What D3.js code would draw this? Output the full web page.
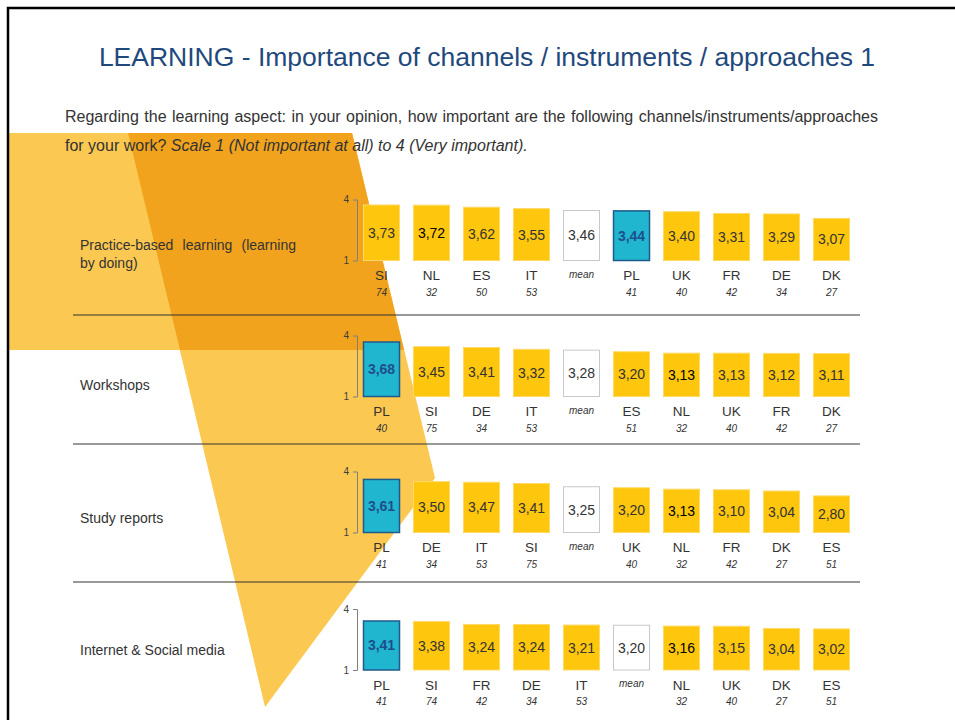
<!DOCTYPE html>
<html>
<head>
<meta charset="utf-8">
<script src="https://cdn.jsdelivr.net/npm/d3@7"></script>
<style>
    body { margin: 0; background: #fff; }
    svg { display: block; font-family: "Liberation Sans", Arial, sans-serif; }
</style>
</head>
<body>
<div id="chart"></div>
<script>
// Data
const title = 'LEARNING - Importance of channels / instruments / approaches 1';
const question = 'Regarding the learning aspect: in your opinion, how important are the following channels/instruments/approaches';
const questionEnd = 'for your work? ';
const scaleNote = 'Scale 1 (Not important at all) to 4 (Very important).';

const categories = [
    ['Practice-based learning (learning', 'by doing)'],
    ['Workshops'],
    ['Study reports'],
    ['Internet & Social media']
];

const countries = [
    ['SI', 'NL', 'ES', 'IT', 'mean', 'PL', 'UK', 'FR', 'DE', 'DK'],
    ['PL', 'SI', 'DE', 'IT', 'mean', 'ES', 'NL', 'UK', 'FR', 'DK'],
    ['PL', 'DE', 'IT', 'SI', 'mean', 'UK', 'NL', 'FR', 'DK', 'ES'],
    ['PL', 'SI', 'FR', 'DE', 'IT', 'mean', 'NL', 'UK', 'DK', 'ES']
];

const values = [
    [3.73, 3.72, 3.62, 3.55, 3.46, 3.44, 3.40, 3.31, 3.29, 3.07],
    [3.68, 3.45, 3.41, 3.32, 3.28, 3.20, 3.13, 3.13, 3.12, 3.11],
    [3.61, 3.50, 3.47, 3.41, 3.25, 3.20, 3.13, 3.10, 3.04, 2.80],
    [3.41, 3.38, 3.24, 3.24, 3.21, 3.20, 3.16, 3.15, 3.04, 3.02]
];

const respondents = [
    [74, 32, 50, 53, null, 41, 40, 42, 34, 27],
    [40, 75, 34, 53, null, 51, 32, 40, 42, 27],
    [41, 34, 53, 75, null, 40, 32, 42, 27, 51],
    [41, 74, 42, 34, 53, null, 32, 40, 27, 51]
];

const scaleTicks = [1, 4];
const highlight = 'PL';

const COLORS = {
    title: '#1f497d',
    text: '#333333',
    bar: '#fec60c',
    barStroke: '#ffd966',
    hl: '#21b6d0',
    hlStroke: '#1f5a8c',
    hlText: '#1f4e8c',
    meanStroke: '#c8c8c8',
    axis: '#7f7f7f',
    rule: '#333333',
    light: '#fbc852',
    dark: '#f1a31e'
};

const width = 955, height = 720;
const panelTop = [199.5, 335.5, 471.5, 609];   // y of the "4" tick
const panelH = 61;
const labelY = [[245, 263], [385], [518], [650]];
const rules = [315, 444, 582];

const svg = d3.select('#chart').append('svg')
    .attr('width', width)
    .attr('height', height);

// decorative background shapes
const poly = pts => 'M' + pts.map(p => p.join(',')).join('L') + 'Z';
svg.append('path').attr('d', poly([[8, 133], [352, 133], [404, 350], [8, 350]])).attr('fill', COLORS.light);
svg.append('path').attr('d', poly([[128, 133], [352, 133], [435, 478], [265, 707]])).attr('fill', COLORS.light);
svg.append('path').attr('d', poly([[128, 133], [352, 133], [404, 350], [180, 350]])).attr('fill', COLORS.dark);

// frame
svg.append('path')
    .attr('d', `M8,${height}V8H${width}`)
    .attr('fill', 'none')
    .attr('stroke', '#000')
    .attr('stroke-width', 2.5);

// title
svg.append('text')
    .attr('x', 487).attr('y', 66)
    .attr('text-anchor', 'middle')
    .attr('fill', COLORS.title)
    .style('font-size', '26.5px')
    .text(title);

// question, first line justified
const q1 = svg.append('text')
    .attr('x', 65).attr('y', 122)
    .attr('fill', COLORS.text)
    .style('font-size', '16px')
    .text(question);
const justify = (sel, w) => {
    const node = sel.node();
    const spaces = (node.textContent.match(/ /g) || []).length;
    const extra = (w - node.getComputedTextLength()) / spaces;
    sel.attr('word-spacing', extra);
};
justify(q1, 813);

const q2 = svg.append('text')
    .attr('x', 65).attr('y', 151)
    .attr('fill', COLORS.text)
    .style('font-size', '16px');
q2.append('tspan').text(questionEnd);
q2.append('tspan').style('font-style', 'italic').text(scaleNote);

// separators
svg.selectAll('.rule')
    .data(rules)
    .enter().append('line')
    .attr('class', 'rule')
    .attr('x1', 73).attr('x2', 860)
    .attr('y1', d => d).attr('y2', d => d)
    .attr('stroke', COLORS.rule)
    .attr('stroke-width', 1);

categories.forEach((lines, i) => {
    // category label
    lines.forEach((line, k) => {
        const t = svg.append('text')
            .attr('x', 80).attr('y', labelY[i][k] + 5)
            .attr('fill', COLORS.text)
            .style('font-size', '14px')
            .text(line);
        if (lines.length > 1 && k === 0) justify(t, 216);
    });

    const rows = countries[i].map((c, j) => ({ c, v: values[i][j], n: respondents[i][j] }));

    const y = d3.scaleLinear().domain([1, 4]).range([panelTop[i] + panelH, panelTop[i]]);
    const x = d3.scaleBand().domain(countries[i]).range([356.5, 856.5]).paddingInner(0.26).paddingOuter(0.13);

    const g = svg.append('g').attr('class', 'panel');

    // bracket axis
    const axis = g.append('g')
        .attr('transform', 'translate(357,0)')
        .call(d3.axisLeft(y).tickValues(scaleTicks).tickSizeInner(0).tickSizeOuter(4).tickPadding(8).tickFormat(d3.format('d')));
    axis.select('.domain').attr('stroke', COLORS.axis);
    axis.selectAll('text').attr('fill', '#404040').style('font-size', '10px').style('font-family', '"Liberation Sans", Arial, sans-serif');

    const bar = g.selectAll('.bar')
        .data(rows)
        .enter().append('g')
        .attr('class', 'bar')
        .attr('transform', d => `translate(${x(d.c)},0)`);

    bar.append('rect')
        .attr('x', 0.5)
        .attr('width', x.bandwidth() - 1)
        .attr('y', d => y(d.v))
        .attr('height', d => y(1) - y(d.v))
        .attr('fill', d => d.c === highlight ? COLORS.hl : d.c === 'mean' ? '#fff' : COLORS.bar)
        .attr('stroke', d => d.c === highlight ? COLORS.hlStroke : d.c === 'mean' ? COLORS.meanStroke : COLORS.barStroke)
        .attr('stroke-width', d => d.c === highlight ? 1.5 : 1);

    bar.append('text')
        .attr('x', x.bandwidth() / 2)
        .attr('y', d => (y(d.v) + y(1)) / 2 + 5)
        .attr('text-anchor', 'middle')
        .attr('fill', d => d.c === highlight ? COLORS.hlText : d.c === 'NL' ? '#000' : COLORS.text)
        .style('font-size', '14px')
        .style('font-weight', d => d.c === highlight ? 'bold' : 'normal')
        .text(d => d3.format('.2f')(d.v).replace('.', ','));

    bar.append('text')
        .attr('x', x.bandwidth() / 2)
        .attr('y', d => d.c === 'mean' ? y(1) + 17 : y(1) + 19.5)
        .attr('text-anchor', 'middle')
        .attr('fill', COLORS.text)
        .style('font-size', d => d.c === 'mean' ? '10px' : '13.5px')
        .style('font-style', d => d.c === 'mean' ? 'italic' : 'normal')
        .text(d => d.c);

    bar.filter(d => d.n != null).append('text')
        .attr('x', x.bandwidth() / 2)
        .attr('y', y(1) + 35)
        .attr('text-anchor', 'middle')
        .attr('fill', COLORS.text)
        .style('font-size', '10px')
        .style('font-style', 'italic')
        .text(d => d.n);
});
</script>
</body>
</html>
